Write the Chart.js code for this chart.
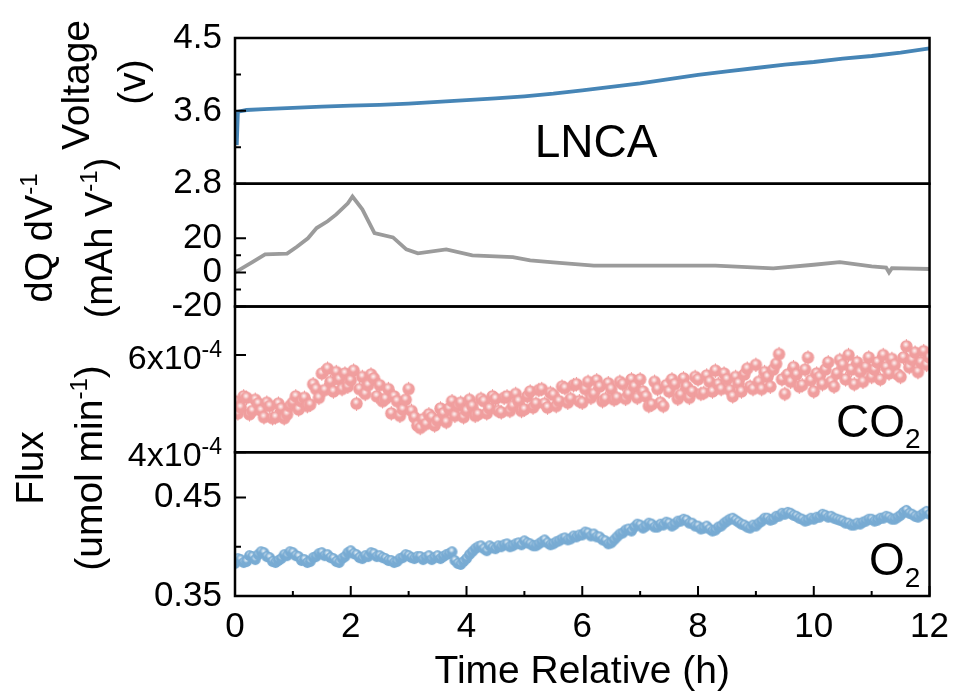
<!DOCTYPE html>
<html>
<head>
<meta charset="utf-8">
<script src="https://cdn.jsdelivr.net/npm/chart.js@4.4.1/dist/chart.umd.min.js"></script>
<style>
  html, body { margin: 0; padding: 0; background: #fff; }
  #wrap { width: 959px; height: 696px; }
</style>
</head>
<body>
<div id="wrap"><canvas id="lncaChart" width="959" height="696"></canvas></div>
<script>
// --- data ---
// voltage (V) vs time (h)
const voltTime = [0.03, 0.05, 0.2, 0.5, 1, 1.5, 2, 2.5, 3, 3.5, 4, 4.5, 5, 5.5, 6, 6.5, 7, 7.5, 8, 8.5, 9, 9.5, 10, 10.5, 11, 11.5, 12];
const voltage  = [3.25, 3.64, 3.66, 3.67, 3.685, 3.70, 3.71, 3.72, 3.735, 3.755, 3.775, 3.795, 3.82, 3.85, 3.89, 3.93, 3.97, 4.02, 4.07, 4.11, 4.15, 4.19, 4.22, 4.26, 4.29, 4.33, 4.38];

// dQ/dV (mAh V^-1) vs time (h)
const dqTime = [0, 0.3, 0.52, 0.9, 1.07, 1.26, 1.41, 1.6, 1.75, 1.95, 2.03, 2.2, 2.41, 2.73, 2.96, 3.16, 3.65, 4.1, 4.8, 5.1, 5.5, 6.2, 7.0, 8.3, 9.3, 10.0, 10.45, 11.0, 11.25, 11.3, 11.35, 12];
const dqdv   = [0, 6, 10.6, 11, 15, 20, 26, 30, 34, 40.5, 44.5, 37, 23, 20.5, 13.5, 11.2, 13.5, 10, 9, 7, 5.9, 4, 4, 4, 2.4, 4.5, 6, 3.5, 2.8, 0, 2.5, 2];

// gas flux, sampled every 0.05 h
const fluxTime = [
  0.00, 0.05, 0.10, 0.15, 0.20, 0.25, 0.30, 0.35, 0.40, 0.45,
  0.50, 0.55, 0.60, 0.65, 0.70, 0.75, 0.80, 0.85, 0.90, 0.95,
  1.00, 1.05, 1.10, 1.15, 1.20, 1.25, 1.30, 1.35, 1.40, 1.45,
  1.50, 1.55, 1.60, 1.65, 1.70, 1.75, 1.80, 1.85, 1.90, 1.95,
  2.00, 2.05, 2.10, 2.15, 2.20, 2.25, 2.30, 2.35, 2.40, 2.45,
  2.50, 2.55, 2.60, 2.65, 2.70, 2.75, 2.80, 2.85, 2.90, 2.95,
  3.00, 3.05, 3.10, 3.15, 3.20, 3.25, 3.30, 3.35, 3.40, 3.45,
  3.50, 3.55, 3.60, 3.65, 3.70, 3.75, 3.80, 3.85, 3.90, 3.95,
  4.00, 4.05, 4.10, 4.15, 4.20, 4.25, 4.30, 4.35, 4.40, 4.45,
  4.50, 4.55, 4.60, 4.65, 4.70, 4.75, 4.80, 4.85, 4.90, 4.95,
  5.00, 5.05, 5.10, 5.15, 5.20, 5.25, 5.30, 5.35, 5.40, 5.45,
  5.50, 5.55, 5.60, 5.65, 5.70, 5.75, 5.80, 5.85, 5.90, 5.95,
  6.00, 6.05, 6.10, 6.15, 6.20, 6.25, 6.30, 6.35, 6.40, 6.45,
  6.50, 6.55, 6.60, 6.65, 6.70, 6.75, 6.80, 6.85, 6.90, 6.95,
  7.00, 7.05, 7.10, 7.15, 7.20, 7.25, 7.30, 7.35, 7.40, 7.45,
  7.50, 7.55, 7.60, 7.65, 7.70, 7.75, 7.80, 7.85, 7.90, 7.95,
  8.00, 8.05, 8.10, 8.15, 8.20, 8.25, 8.30, 8.35, 8.40, 8.45,
  8.50, 8.55, 8.60, 8.65, 8.70, 8.75, 8.80, 8.85, 8.90, 8.95,
  9.00, 9.05, 9.10, 9.15, 9.20, 9.25, 9.30, 9.35, 9.40, 9.45,
  9.50, 9.55, 9.60, 9.65, 9.70, 9.75, 9.80, 9.85, 9.90, 9.95,
  10.00, 10.05, 10.10, 10.15, 10.20, 10.25, 10.30, 10.35, 10.40, 10.45,
  10.50, 10.55, 10.60, 10.65, 10.70, 10.75, 10.80, 10.85, 10.90, 10.95,
  11.00, 11.05, 11.10, 11.15, 11.20, 11.25, 11.30, 11.35, 11.40, 11.45,
  11.50, 11.55, 11.60, 11.65, 11.70, 11.75, 11.80, 11.85, 11.90, 11.95,
  12.00
];
// CO2 flux in units of 1e-4 umol/min
const co2Flux = [
  5.05, 4.80, 4.92, 5.15, 5.12, 4.78, 4.85, 5.08, 5.00, 4.86,
  4.72, 5.02, 4.95, 4.70, 4.72, 5.00, 4.90, 4.70, 4.78, 4.95,
  5.02, 5.15, 4.88, 5.05, 5.12, 4.95, 4.98, 5.40, 5.30, 5.12,
  5.62, 5.28, 5.72, 5.45, 5.25, 5.65, 5.50, 5.30, 5.62, 5.35,
  5.48, 5.68, 5.00, 5.30, 5.55, 5.20, 5.38, 5.60, 5.52, 5.15,
  5.38, 5.05, 5.10, 5.30, 4.80, 5.15, 5.05, 4.75, 4.88, 5.08,
  5.30, 4.85, 4.72, 4.55, 4.50, 4.68, 4.58, 4.78, 4.72, 4.55,
  4.65, 4.90, 4.80, 4.62, 4.90, 5.05, 4.75, 4.95, 5.02, 4.72,
  4.85, 5.08, 4.95, 4.75, 4.78, 5.10, 5.05, 4.80, 4.90, 5.15,
  5.10, 4.85, 4.82, 5.12, 5.15, 4.85, 4.95, 5.20, 5.05, 4.85,
  4.88, 5.15, 5.25, 4.92, 5.00, 5.28, 5.30, 5.00, 4.92, 5.22,
  5.18, 4.95, 5.05, 5.35, 5.32, 5.02, 5.10, 5.38, 5.40, 5.05,
  5.02, 5.30, 5.45, 5.12, 5.20, 5.48, 5.35, 5.05, 5.10, 5.42,
  5.30, 5.08, 5.12, 5.45, 5.40, 5.10, 5.20, 5.50, 5.35, 5.12,
  5.50, 5.25, 5.15, 4.95, 4.98, 5.45, 5.30, 5.02, 4.95, 5.38,
  5.25, 5.50, 5.40, 5.10, 5.18, 5.52, 5.35, 5.12, 5.25, 5.55,
  5.50, 5.20, 5.22, 5.58, 5.45, 5.25, 5.68, 5.40, 5.30, 5.62,
  5.50, 5.28, 5.15, 5.55, 5.42, 5.25, 5.60, 5.72, 5.35, 5.30,
  5.80, 5.45, 5.30, 5.65, 5.55, 5.35, 5.70, 5.82, 6.02, 5.50,
  5.20, 5.60, 5.45, 5.75, 5.60, 5.35, 5.38, 5.70, 5.95, 5.48,
  5.25, 5.62, 5.55, 5.40, 5.70, 5.85, 5.45, 5.35, 5.62, 5.90,
  5.80, 5.50, 6.00, 5.70, 5.40, 5.85, 5.65, 5.45, 5.75, 5.95,
  5.55, 5.70, 5.85, 5.50, 6.00, 5.75, 5.62, 5.92, 5.80, 5.60,
  5.55, 5.95, 6.18, 5.75, 5.90, 6.05, 5.65, 5.85, 6.08, 5.80,
  5.95
];
// O2 flux in umol/min
const o2Flux = [
  0.383, 0.388, 0.387, 0.384, 0.385, 0.391, 0.390, 0.387, 0.392, 0.395,
  0.394, 0.390, 0.389, 0.385, 0.384, 0.386, 0.388, 0.392, 0.391, 0.395,
  0.394, 0.391, 0.390, 0.386, 0.387, 0.384, 0.385, 0.389, 0.390, 0.393,
  0.394, 0.391, 0.392, 0.389, 0.388, 0.385, 0.384, 0.388, 0.390, 0.394,
  0.396, 0.393, 0.392, 0.389, 0.388, 0.391, 0.390, 0.394, 0.393, 0.390,
  0.391, 0.389, 0.388, 0.386, 0.386, 0.384, 0.385, 0.388, 0.389, 0.392,
  0.391, 0.389, 0.388, 0.390, 0.390, 0.387, 0.389, 0.391, 0.387, 0.389,
  0.391, 0.388, 0.390, 0.392, 0.393, 0.395, 0.386, 0.383, 0.382, 0.385,
  0.388, 0.392, 0.395, 0.398, 0.400, 0.401, 0.398, 0.396, 0.401, 0.399,
  0.398, 0.401, 0.400, 0.402, 0.403, 0.400, 0.401, 0.403, 0.404, 0.402,
  0.406, 0.404, 0.403, 0.401, 0.401, 0.403, 0.405, 0.407, 0.404, 0.402,
  0.403, 0.405, 0.406, 0.408, 0.409, 0.407, 0.408, 0.411, 0.410, 0.412,
  0.412, 0.415, 0.414, 0.411, 0.413, 0.410, 0.410, 0.407, 0.406, 0.403,
  0.404, 0.407, 0.410, 0.413, 0.414, 0.417, 0.418, 0.416, 0.420, 0.423,
  0.422, 0.419, 0.421, 0.424, 0.423, 0.420, 0.420, 0.423, 0.422, 0.425,
  0.424, 0.421, 0.423, 0.426, 0.426, 0.428, 0.427, 0.424, 0.424, 0.421,
  0.421, 0.418, 0.419, 0.421, 0.418, 0.416, 0.417, 0.420, 0.421, 0.424,
  0.426, 0.428, 0.429, 0.427, 0.425, 0.423, 0.422, 0.420, 0.419, 0.422,
  0.421, 0.424, 0.426, 0.429, 0.429, 0.427, 0.428, 0.431, 0.431, 0.434,
  0.433, 0.435, 0.434, 0.432, 0.431, 0.429, 0.428, 0.426, 0.427, 0.429,
  0.428, 0.430, 0.430, 0.433, 0.432, 0.430, 0.431, 0.429, 0.428, 0.427,
  0.426, 0.424, 0.424, 0.422, 0.422, 0.424, 0.423, 0.425, 0.426, 0.428,
  0.428, 0.426, 0.427, 0.429, 0.429, 0.431, 0.430, 0.428, 0.428, 0.430,
  0.432, 0.435, 0.437, 0.434, 0.433, 0.431, 0.430, 0.432, 0.434, 0.436,
  0.433
];
const co2Err = 0.15;   // half error bar, 1e-4 units
const o2Err = 0.004;

// axis ticks
const xTicks = [0, 2, 4, 6, 8, 10, 12];
const xMinor = [1, 3, 5, 7, 9, 11];
const voltTicks = [2.8, 3.65, 4.5];
const voltLabels = ['2.8', '3.6', '4.5'];
const voltMinor = [3.225, 4.075];
const dqTicks = [-20, 0, 20];
const dqLabels = ['-20', '0', '20'];
const dqMinor = [-10, 10];
const co2Ticks = [4, 6];
const co2Labels = ['4x10', '6x10'];
const o2Ticks = [0.35, 0.45];
const o2Labels = ['0.35', '0.45'];
const o2Minor = [0.40];

const FONT = "'Liberation Sans', Arial, sans-serif";
Chart.defaults.font.family = FONT;
Chart.defaults.color = '#000';

const pts = (xs, ys) => xs.map((x, i) => ({ x, y: ys[i] }));

// shaded ball used as the scatter symbol
function makeBall(r, base) {
  const c = document.createElement('canvas');
  const d = Math.ceil(r * 2 + 2);
  c.width = d; c.height = d;
  const g = c.getContext('2d');
  const m = d / 2;
  g.beginPath(); g.arc(m, m, r, 0, Math.PI * 2);
  g.fillStyle = base; g.fill();
  const hl = g.createRadialGradient(m - r * 0.1, m - r * 0.3, 0, m - r * 0.1, m - r * 0.3, r * 0.55);
  hl.addColorStop(0, 'rgba(255,255,255,0.95)');
  hl.addColorStop(1, 'rgba(255,255,255,0)');
  g.beginPath(); g.arc(m, m, r, 0, Math.PI * 2);
  g.fillStyle = hl; g.fill();
  return c;
}
const co2Ball = makeBall(6.2, '#F09E9E');
const o2Ball = makeBall(5.4, '#78ABD3');

function panelAxis(min, max, weight, ticks, labels) {
  return {
    type: 'linear', position: 'left', stack: 'panels', stackWeight: weight,
    min, max,
    grid: { display: false, drawTicks: false },
    border: { display: false },
    afterFit: s => { s.width = 235; },
    afterBuildTicks: s => { s.ticks = ticks.map(v => ({ value: v })); },
    ticks: {
      autoSkip: false, padding: 13, color: '#000',
      font: { size: 35 },
      callback: (v, i) => labels ? labels[i] : ''
    }
  };
}

// draw text rotated -90deg from pieces (superscripts allowed), centred on cy
function drawRotated(ctx, pieces, bx, cy) {
  ctx.save();
  ctx.translate(bx, cy);
  ctx.rotate(-Math.PI / 2);
  ctx.textBaseline = 'alphabetic';
  ctx.textAlign = 'left';
  let total = 0;
  pieces.forEach(p => { ctx.font = p.size + 'px ' + FONT; total += ctx.measureText(p.t).width; });
  let x = -total / 2;
  pieces.forEach(p => {
    ctx.font = p.size + 'px ' + FONT;
    ctx.fillText(p.t, x, p.rise ? -p.rise : 0);
    x += ctx.measureText(p.t).width;
  });
  ctx.restore();
}

function drawPieces(ctx, pieces, x, y) {
  ctx.save();
  ctx.textBaseline = 'alphabetic';
  ctx.textAlign = 'left';
  pieces.forEach(p => {
    ctx.font = p.size + 'px ' + FONT;
    ctx.fillText(p.t, x, y - (p.rise || 0));
    x += ctx.measureText(p.t).width;
  });
  ctx.restore();
}

const panelDecor = {
  id: 'panelDecor',
  beforeDatasetsDraw(chart) {
    const ctx = chart.ctx;
    chart.data.datasets.forEach((ds, i) => {
      if (!ds.errHalf) return;
      const meta = chart.getDatasetMeta(i);
      const ys = chart.scales[ds.yAxisID];
      ctx.save();
      ctx.strokeStyle = ds.errColor;
      ctx.lineWidth = 1;
      ctx.beginPath();
      meta.data.forEach((el, j) => {
        const v = ds.data[j].y;
        ctx.moveTo(el.x, ys.getPixelForValue(v + ds.errHalf));
        ctx.lineTo(el.x, ys.getPixelForValue(v - ds.errHalf));
      });
      ctx.stroke();
      ctx.restore();
    });
  },
  afterDatasetsDraw(chart) {
    const ctx = chart.ctx;
    const { left, right } = chart.chartArea;
    const sc = chart.scales;
    ctx.save();
    ctx.strokeStyle = '#000';
    ctx.lineWidth = 2.5;
    // panel frames
    ['yV', 'yD', 'yC', 'yO'].forEach(id => {
      const s = sc[id];
      ctx.strokeRect(left, s.top, right - left, s.bottom - s.top);
    });
    // inward ticks
    ctx.lineWidth = 2;
    ctx.beginPath();
    const yTick = (id, vals, len) => vals.forEach(v => {
      const y = sc[id].getPixelForValue(v);
      ctx.moveTo(left, y); ctx.lineTo(left + len, y);
    });
    yTick('yV', voltTicks, 11); yTick('yV', voltMinor, 6);
    yTick('yD', dqTicks, 11); yTick('yD', dqMinor, 6);
    yTick('yC', co2Ticks, 11);
    yTick('yO', o2Ticks, 11); yTick('yO', o2Minor, 6);
    const xb = sc.x.top;
    xTicks.forEach(v => { const x = sc.x.getPixelForValue(v); ctx.moveTo(x, xb); ctx.lineTo(x, xb - 10); });
    xMinor.forEach(v => { const x = sc.x.getPixelForValue(v); ctx.moveTo(x, xb); ctx.lineTo(x, xb - 5); });
    ctx.stroke();
    ctx.restore();
  },
  afterDraw(chart) {
    const ctx = chart.ctx;
    const sc = chart.scales;
    ctx.save();
    ctx.fillStyle = '#000';
    // CO2 tick labels with exponent
    co2Ticks.forEach((v, i) => {
      const y = sc.yC.getPixelForValue(v) + 14;
      ctx.font = '23px ' + FONT;
      const wSup = ctx.measureText('-4').width;
      ctx.font = '34px ' + FONT;
      const wMain = ctx.measureText(co2Labels[i]).width;
      drawPieces(ctx, [{ t: co2Labels[i], size: 34 }, { t: '-4', size: 23, rise: 12 }], 222 - wMain - wSup, y);
    });
    // axis titles
    drawRotated(ctx, [{ t: 'Voltage', size: 39 }], 89, 85);
    drawRotated(ctx, [{ t: '(v)', size: 39 }], 145, 82);
    drawRotated(ctx, [{ t: 'dQ dV', size: 38 }, { t: '-1', size: 24, rise: 15 }], 52, 238);
    drawRotated(ctx, [{ t: '(mAh V', size: 38 }, { t: '-1', size: 24, rise: 15 }, { t: ')', size: 38 }], 112, 238);
    drawRotated(ctx, [{ t: 'Flux', size: 39 }], 43, 468);
    drawRotated(ctx, [{ t: '(umol min', size: 39 }, { t: '-1', size: 24, rise: 15 }, { t: ')', size: 39 }], 102, 468);
    // panel labels
    ctx.font = '46px ' + FONT;
    ctx.textAlign = 'center';
    ctx.fillText('LNCA', 596, 157);
    ctx.textAlign = 'left';
    drawPieces(ctx, [{ t: 'CO', size: 46 }, { t: '2', size: 28, rise: -11 }], 836, 437);
    drawPieces(ctx, [{ t: 'O', size: 46 }, { t: '2', size: 28, rise: -12 }], 869, 575);
    ctx.restore();
  }
};

new Chart(document.getElementById('lncaChart'), {
  type: 'line',
  data: {
    datasets: [
      {
        label: 'Voltage', data: pts(voltTime, voltage), yAxisID: 'yV',
        borderColor: '#4685B6', borderWidth: 3.8, pointRadius: 0, tension: 0
      },
      {
        label: 'dQ/dV', data: pts(dqTime, dqdv), yAxisID: 'yD',
        borderColor: '#9B9B9B', borderWidth: 3.8, pointRadius: 0, tension: 0
      },
      {
        label: 'CO2', data: pts(fluxTime, co2Flux), yAxisID: 'yC', showLine: false,
        pointStyle: co2Ball, pointRadius: 6.2, errHalf: co2Err, errColor: '#F09E9E'
      },
      {
        label: 'O2', data: pts(fluxTime, o2Flux), yAxisID: 'yO', showLine: false,
        pointStyle: o2Ball, pointRadius: 5.4, errHalf: o2Err, errColor: '#78ABD3'
      }
    ]
  },
  options: {
    responsive: false,
    animation: false,
    layout: { padding: { top: 38, right: 29, left: 0, bottom: 0 } },
    plugins: { legend: { display: false }, tooltip: { enabled: false } },
    scales: {
      x: {
        type: 'linear', min: 0, max: 12,
        grid: { display: false, drawTicks: false },
        border: { display: false },
        afterFit: s => { s.height = 100; },
        afterBuildTicks: s => { s.ticks = xTicks.map(v => ({ value: v })); },
        ticks: { autoSkip: false, maxRotation: 0, padding: 10, color: '#000', font: { size: 35 } },
        title: { display: true, text: 'Time Relative (h)', color: '#000', font: { size: 39 }, padding: { top: 0, bottom: 0 } }
      },
      // stacked panels: listed bottom to top
      yO: panelAxis(0.35, 0.496, 144, o2Ticks, o2Labels),
      yC: panelAxis(4, 7, 146, co2Ticks, null),
      yD: panelAxis(-20, 52, 123, dqTicks, dqLabels),
      yV: panelAxis(2.8, 4.5, 146, voltTicks, voltLabels)
    }
  },
  plugins: [panelDecor]
});
</script>
</body>
</html>
